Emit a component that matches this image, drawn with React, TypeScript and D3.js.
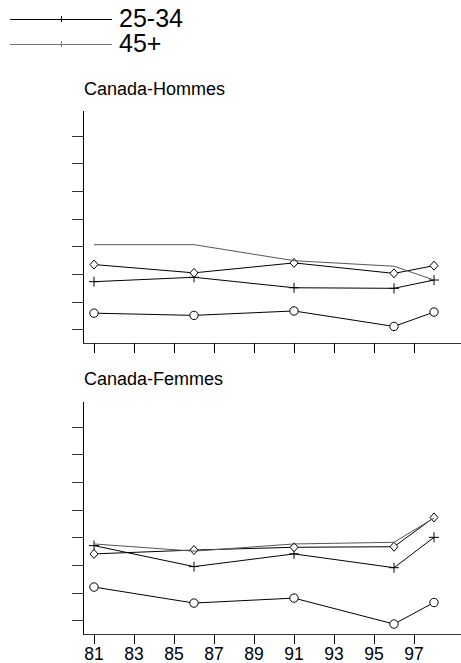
import React from "react";
import * as d3 from "d3";

// years on the x axis and the tick labels
const years = [81, 86, 91, 96, 98];
const tickYears = [81, 83, 85, 87, 89, 91, 93, 95, 97];
// y axis has unlabeled ticks
const yTicks = [5, 10, 15, 20, 25, 30, 35, 40];

const groups = ["15-24", "25-34", "35-44", "45+"];

// Canada-Hommes
const hommes1524 = [7.9, 7.5, 8.3, 5.5, 8.1];
const hommes2534 = [13.6, 14.4, 12.5, 12.4, 13.9];
const hommes3544 = [16.7, 15.2, 17.0, 15.1, 16.5];
const hommes45 = [20.3, 20.3, 17.4, 16.4, 13.9];

// Canada-Femmes
const femmes1524 = [11.0, 8.1, 9.0, 4.3, 8.2];
const femmes2534 = [18.5, 14.7, 17.0, 14.5, 20.0];
const femmes3544 = [17.0, 17.7, 18.2, 18.3, 23.6];
const femmes45 = [18.8, 17.5, 18.8, 19.1, 23.5];

const W = 461;
const H = 663;
const font = "'Liberation Sans', Arial, sans-serif";

const x = d3.scaleLinear().domain([80.45, 99.35]).range([83, 461]);

const Marker = ({ type, cx, cy }) => {
	if (type === "circle")
		return <circle cx={cx} cy={cy} r={4.2} fill="white" stroke="black" strokeWidth={1} />;
	if (type === "diamond")
		return (
			<path
				d={`M${cx},${cy - 4.5}L${cx + 4},${cy}L${cx},${cy + 4.5}L${cx - 4},${cy}Z`}
				fill="white"
				stroke="black"
				strokeWidth={1}
			/>
		);
	if (type === "plus")
		return (
			<path
				d={`M${cx - 5},${cy}H${cx + 5}M${cx},${cy - 5}V${cy + 5}`}
				stroke="black"
				strokeWidth={1}
			/>
		);
	return null;
};

const styles = {
	"15-24": { color: "black", marker: "circle" },
	"25-34": { color: "black", marker: "plus" },
	"35-44": { color: "black", marker: "diamond" },
	"45+": { color: "#555", marker: "none" },
};

const Panel = ({ title, series, top, bottom, titleY, showLabels }) => {
	const y = d3.scaleLinear().domain([2.5, 44.5]).range([bottom, top]);
	const line = d3
		.line()
		.x((d) => x(d[0]))
		.y((d) => y(d[1]));

	return (
		<g>
			<text x={84} y={titleY} fontFamily={font} fontSize={18} fill="black">
				{title}
			</text>
			{/* axes */}
			<line x1={83.5} x2={83.5} y1={top} y2={bottom} stroke="black" strokeWidth={1} />
			<line x1={83} x2={W} y1={bottom + 0.5} y2={bottom + 0.5} stroke="#333" strokeWidth={1.2} />
			{yTicks.map((t) => (
				<line key={t} x1={72} x2={83} y1={Math.round(y(t)) + 0.5} y2={Math.round(y(t)) + 0.5} stroke="#333" strokeWidth={1} />
			))}
			{tickYears.map((t) => (
				<g key={t}>
					<line x1={Math.round(x(t)) + 0.5} x2={Math.round(x(t)) + 0.5} y1={bottom} y2={bottom + 10} stroke="black" strokeWidth={1} />
					{showLabels && (
						<text x={x(t)} y={bottom + 26} textAnchor="middle" fontFamily={font} fontSize={17.5} fill="black">
							{t}
						</text>
					)}
				</g>
			))}
			{/* series */}
			{groups.map((g, gi) => {
				const vals = series[gi];
				const pts = years.map((yr, i) => [yr, vals[i]]);
				return (
					<g key={g}>
						<path d={line(pts)} fill="none" stroke={styles[g].color} strokeWidth={1} />
						{pts.map((p, i) => (
							<Marker key={i} type={styles[g].marker} cx={x(p[0])} cy={y(p[1])} />
						))}
					</g>
				);
			})}
		</g>
	);
};

const Legend = () => {
	const items = [
		{ label: "25-34", y: 19, color: "black" },
		{ label: "45+", y: 44, color: "#777" },
	];
	return (
		<g>
			{items.map((it) => (
				<g key={it.label}>
					<line x1={10} x2={112} y1={it.y + 0.5} y2={it.y + 0.5} stroke={it.color} strokeWidth={1} />
					<line x1={61.5} x2={61.5} y1={it.y - 3} y2={it.y + 3} stroke={it.color} strokeWidth={1} />
					<text x={119} y={it.y + 8} fontFamily={font} fontSize={25} fill="black">
						{it.label}
					</text>
				</g>
			))}
		</g>
	);
};

const App = () => {
	return (
		<svg
			width={W}
			height={H}
			style={{ position: "absolute", left: 0, top: 0, background: "white" }}
		>
			<rect width={W} height={H} fill="white" />
			<Legend />
			<Panel
				title="Canada-Hommes"
				series={[hommes1524, hommes2534, hommes3544, hommes45]}
				top={111}
				bottom={343}
				titleY={95}
				showLabels={false}
			/>
			<Panel
				title="Canada-Femmes"
				series={[femmes1524, femmes2534, femmes3544, femmes45]}
				top={402}
				bottom={634}
				titleY={385}
				showLabels={true}
			/>
		</svg>
	);
};

export default App;
